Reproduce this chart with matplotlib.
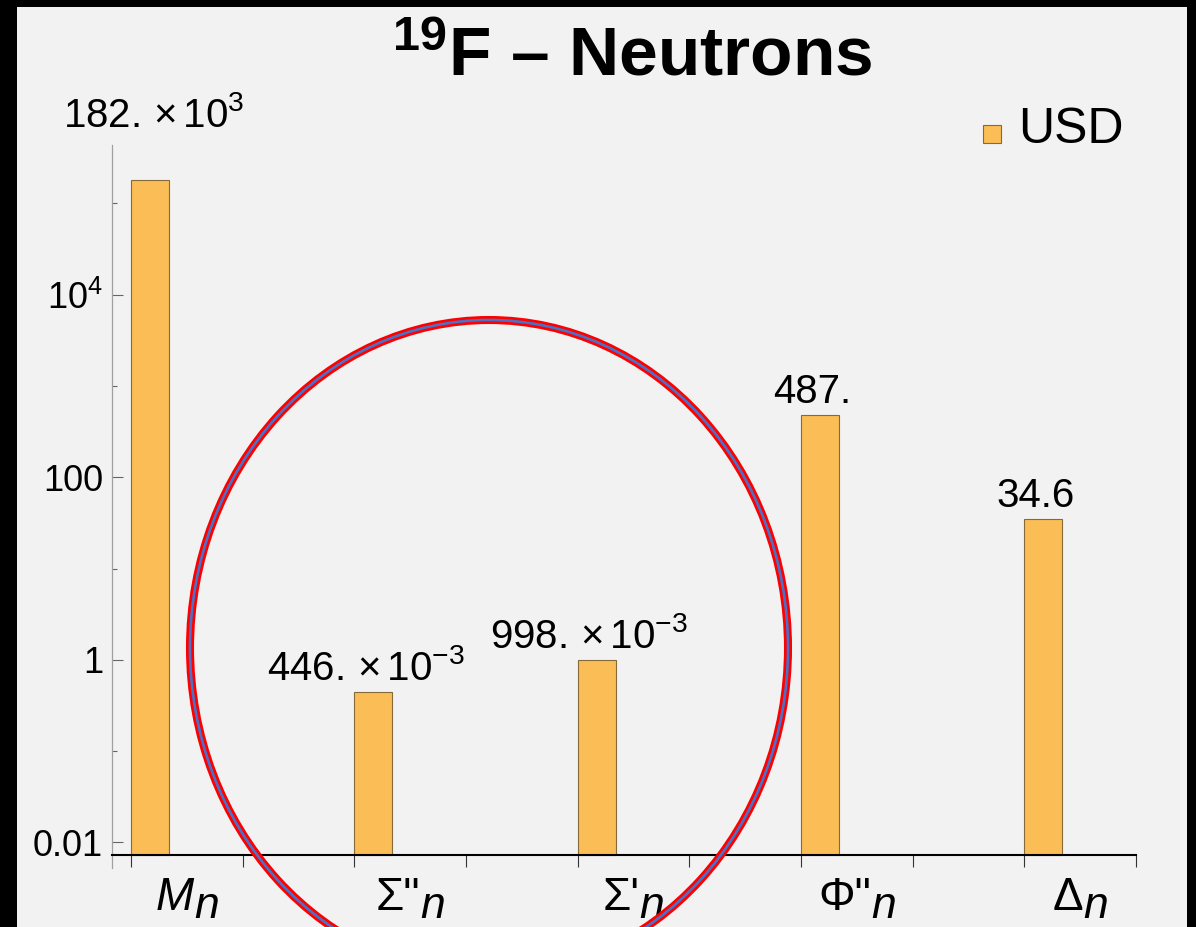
import matplotlib
matplotlib.use('Agg')
import matplotlib.pyplot as plt
import numpy as np
from matplotlib.patches import Ellipse, Rectangle
from matplotlib.ticker import FixedLocator, FixedFormatter, NullFormatter

# Arial-like look for all text, math included
plt.rcParams['font.family'] = ['Liberation Sans', 'DejaVu Sans']
plt.rcParams['mathtext.fontset'] = 'custom'
plt.rcParams['mathtext.rm'] = 'Liberation Sans'
plt.rcParams['mathtext.it'] = 'Liberation Sans:italic'
plt.rcParams['mathtext.bf'] = 'Liberation Sans:bold'

# operator names (head symbol + subscript n) and the USD values
operators = ['M', 'Σ"', "Σ'", 'Φ"', 'Δ']
italic_head = [True, False, False, False, False]
usd = [182e3, 0.446, 0.998, 487, 34.6]
series_name = 'USD'

ytick_vals = [1e-2, 1, 1e2, 1e4]
ytick_text = ['0.01', '1', '100', r'$10^4$']
ytick_minor = [1e-1, 1e1, 1e3, 1e5]


def value_label(v):
    """Three significant digits, engineering exponent, trailing point on integers."""
    e = int(np.floor(np.log10(v)))
    if 0 <= e < 3:
        s = f'{v:.3g}'
        return s if '.' in s else s + '.'
    e3 = 3 * (e // 3)
    s = f'{v / 10**e3:.3g}'
    if '.' not in s:
        s += '.'
    return rf'${s}\,{{\times}}\,10^{{{e3}}}$'


W, H = 1196, 927
fig = plt.figure(figsize=(W / 100, H / 100), dpi=100, facecolor='black')
# light panel inside the black frame
fig.add_artist(Rectangle((17 / W, 0), (1187 - 17) / W, (H - 7) / H,
                         transform=fig.transFigure, facecolor='#f2f2f2',
                         edgecolor='none', zorder=-10))

ax = fig.add_axes([112 / W, 59 / H, 1024 / W, 723 / H])
ax.set_facecolor('none')
ax.set_yscale('log')
ax.set_ylim(10**-2.28, 10**5.64)
ax.set_xlim(-0.086, len(usd) - 0.5)
base = 10**-2.14  # where the horizontal axis crosses

x = np.arange(len(usd))
bar_w = 0.17
bars = ax.bar(x, np.array(usd) - base, bottom=base, width=bar_w, align='edge',
              color='#fbbd55', edgecolor='#866a3a', linewidth=0.8, label=series_name,
              zorder=2)

# value labels above the bars; the tallest one sits above the frame
for xi, v in zip(x, usd):
    if v == max(usd):
        ax.annotate(value_label(v), xy=(xi + bar_w / 2, 1.0),
                    xycoords=('data', 'axes fraction'), xytext=(4, 18),
                    textcoords='offset pixels', ha='center', va='baseline',
                    fontsize=29, annotation_clip=False)
    else:
        ax.annotate(value_label(v), xy=(xi + bar_w / 2, v), xytext=(-8, 12),
                    textcoords='offset pixels', ha='center', va='baseline',
                    fontsize=29, annotation_clip=False)

# spines
for side in ['top', 'right']:
    ax.spines[side].set_visible(False)
ax.spines['left'].set_color('#a0a0a0')
ax.spines['left'].set_linewidth(0.9)
ax.spines['bottom'].set_position(('data', base))
ax.spines['bottom'].set_color('black')
ax.spines['bottom'].set_linewidth(1.5)

# y axis: labelled ticks every two decades, short ticks between
ax.yaxis.set_major_locator(FixedLocator(ytick_vals))
ax.yaxis.set_major_formatter(FixedFormatter(ytick_text))
ax.yaxis.set_minor_locator(FixedLocator(ytick_minor))
ax.yaxis.set_minor_formatter(NullFormatter())
ax.tick_params(axis='y', which='major', direction='in', length=8, width=0.8,
               color='#666666', labelsize=26, pad=6.5)
ax.tick_params(axis='y', which='minor', direction='in', length=3.6, width=0.8,
               color='#666666')

# x axis: ticks at bar edges and halfway, labels set by hand below
ax.xaxis.set_major_locator(FixedLocator(np.arange(0, len(usd), 0.5)))
ax.xaxis.set_major_formatter(NullFormatter())
ax.xaxis.set_minor_locator(FixedLocator([]))
ax.tick_params(axis='x', which='major', direction='out', length=8.6, width=0.8,
               color='#333333')

# operator names with a full-size, lowered subscript n
fig.canvas.draw()
renderer = fig.canvas.get_renderer()
for i, (head, it) in enumerate(zip(operators, italic_head)):
    t1 = ax.annotate(head, xy=(i + 0.25, base), xytext=(0, 0),
                     textcoords='offset pixels', ha='left', va='baseline',
                     fontsize=33, style='italic' if it else 'normal',
                     annotation_clip=False)
    t2 = ax.annotate('n', xy=(i + 0.25, base), xytext=(0, 0),
                     textcoords='offset pixels', ha='left', va='baseline',
                     fontsize=32, style='italic', annotation_clip=False)
    w1 = t1.get_window_extent(renderer).width
    w2 = t2.get_window_extent(renderer).width
    t1.set_position((-(w1 + w2) / 2, -55))
    t2.set_position((-(w1 + w2) / 2 + w1, -63))

leg = ax.legend(handles=[bars], frameon=False, fontsize=36, handlelength=0.36,
                handleheight=0.36, handletextpad=0.36, borderpad=0, borderaxespad=0,
                loc='center right', bbox_to_anchor=(1124 / W, 1 - 130 / H),
                bbox_transform=fig.transFigure)
# small square key sitting on the text baseline
key = leg.legend_handles[0]
key.set_y(0)
key.set_height(13)

fig.text(632 / W, 1 - 75 / H, r'$^{\mathbf{19}}$F – Neutrons', ha='center',
         va='baseline', fontsize=50, fontweight='bold')

# hand-drawn highlight ring over the two small spin operators
for lw, col in [(5.8, '#ff0000'), (1.9, '#4b70c8')]:
    fig.add_artist(Ellipse((489 / W, 1 - 648 / H), 598 / W, 656 / H,
                           transform=fig.transFigure, fill=False,
                           edgecolor=col, linewidth=lw, zorder=10))

fig.savefig('out.png', dpi=100)
